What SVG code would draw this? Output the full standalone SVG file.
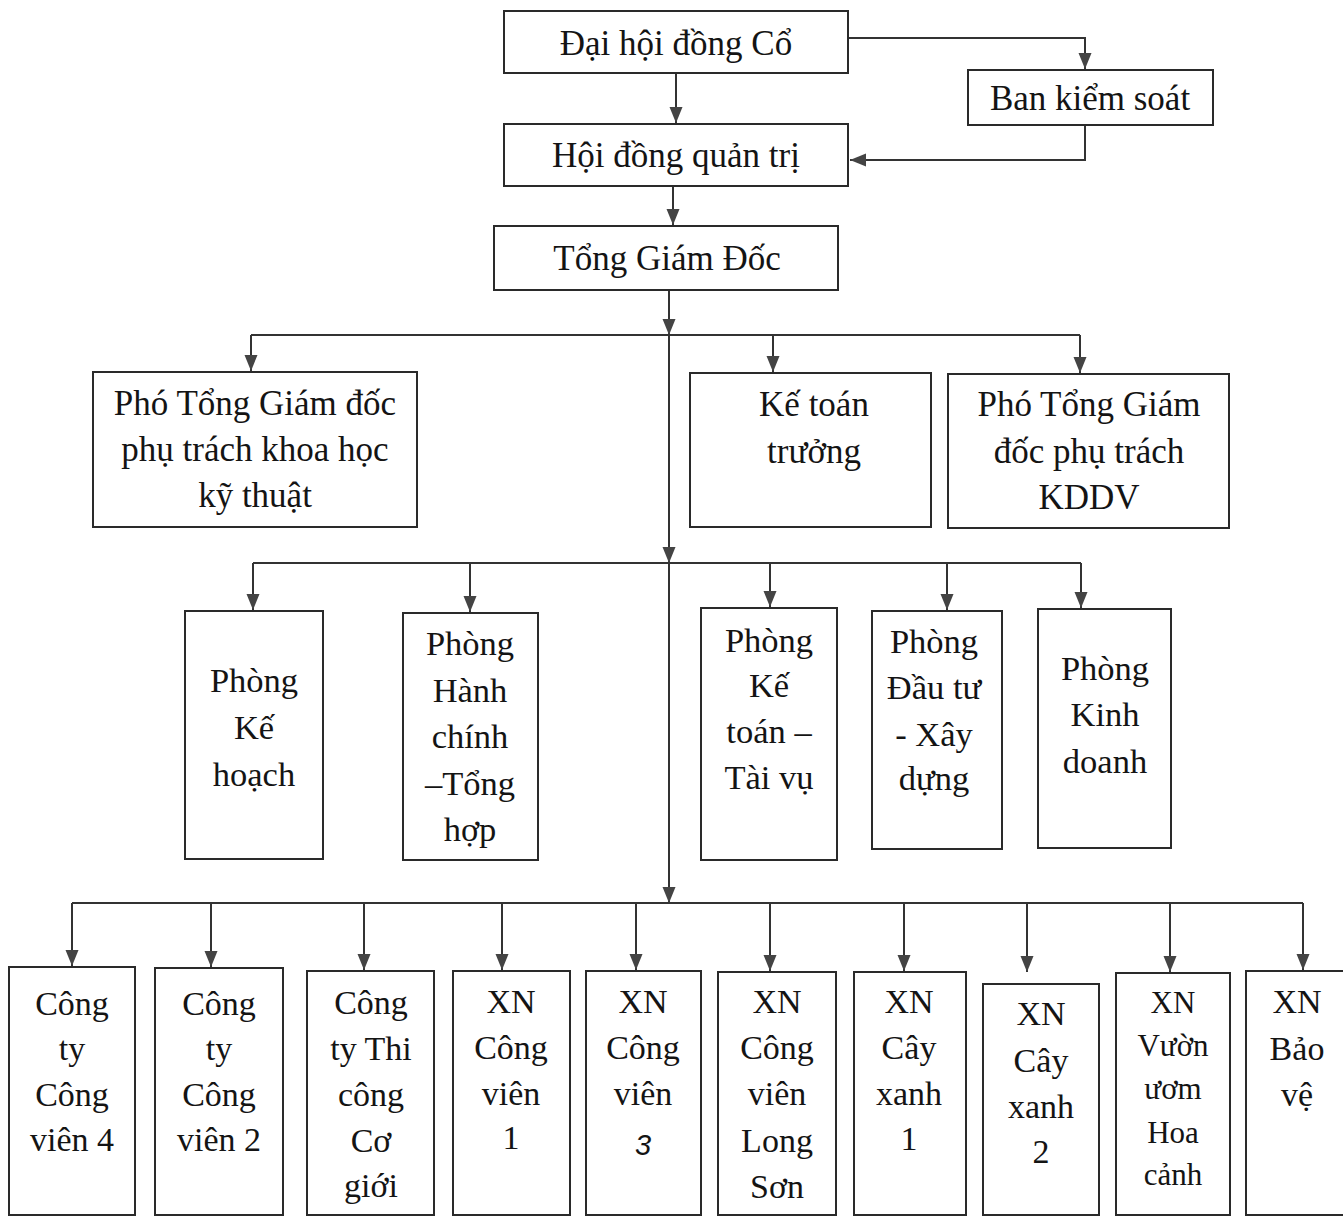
<svg xmlns="http://www.w3.org/2000/svg" width="1343" height="1217" viewBox="0 0 1343 1217">
<style>
.box{fill:#fff;stroke:#2a2a2a;stroke-width:2}
.t{font-family:"Liberation Serif","Times New Roman",serif;font-size:35px;fill:#141414;text-anchor:middle}
.m{font-size:34.5px}
.b{font-size:34px}
.s{font-size:31px}
.c{fill:none;stroke:#333;stroke-width:2}
</style>
<defs>
<marker id="ah" markerUnits="userSpaceOnUse" markerWidth="17" markerHeight="14" refX="16" refY="7" orient="auto">
<path d="M0,0.5 L16,7 L0,13.5 z" fill="#444"/>
</marker>
</defs>
<rect width="1343" height="1217" fill="#fff"/>
<g id="connectors">
<path class="c" d="M676,73 V123" marker-end="url(#ah)"/>
<path class="c" d="M848,38 H1085 V69" marker-end="url(#ah)"/>
<path class="c" d="M1085,125 V160 H850" marker-end="url(#ah)"/>
<path class="c" d="M673,186 V225" marker-end="url(#ah)"/>
<path class="c" d="M669,290 V335" marker-end="url(#ah)"/>
<path class="c" d="M669,335 V563" marker-end="url(#ah)"/>
<path class="c" d="M669,563 V903" marker-end="url(#ah)"/>
<path class="c" d="M251,335 H1080"/>
<path class="c" d="M251,335 V371" marker-end="url(#ah)"/>
<path class="c" d="M773,335 V372" marker-end="url(#ah)"/>
<path class="c" d="M1080,335 V373" marker-end="url(#ah)"/>
<path class="c" d="M253,563 H1081"/>
<path class="c" d="M253,563 V610" marker-end="url(#ah)"/>
<path class="c" d="M470,563 V612" marker-end="url(#ah)"/>
<path class="c" d="M770,563 V607" marker-end="url(#ah)"/>
<path class="c" d="M947,563 V610" marker-end="url(#ah)"/>
<path class="c" d="M1081,563 V608" marker-end="url(#ah)"/>
<path class="c" d="M72,903 H1303"/>
<path class="c" d="M72,903 V966" marker-end="url(#ah)"/>
<path class="c" d="M211,903 V967" marker-end="url(#ah)"/>
<path class="c" d="M364,903 V970" marker-end="url(#ah)"/>
<path class="c" d="M502,903 V970" marker-end="url(#ah)"/>
<path class="c" d="M636,903 V970" marker-end="url(#ah)"/>
<path class="c" d="M770,903 V971" marker-end="url(#ah)"/>
<path class="c" d="M904,903 V971" marker-end="url(#ah)"/>
<path class="c" d="M1027,903 V972" marker-end="url(#ah)"/>
<path class="c" d="M1170,903 V972" marker-end="url(#ah)"/>
<path class="c" d="M1303,903 V970" marker-end="url(#ah)"/>
</g>
<g id="dai-hoi"><rect class="box" x="504" y="11" width="344" height="62"/><text class="t" x="676" y="55">Đại hội đồng Cổ</text></g>
<g id="ban-kiem-soat"><rect class="box" x="968" y="70" width="245" height="55"/><text class="t" x="1090" y="110">Ban kiểm soát</text></g>
<g id="hoi-dong"><rect class="box" x="504" y="124" width="344" height="62"/><text class="t" x="676" y="167">Hội đồng quản trị</text></g>
<g id="tong-giam-doc"><rect class="box" x="494" y="226" width="344" height="64"/><text class="t" x="667" y="270">Tổng Giám Đốc</text></g>
<g id="pho-khkt"><rect class="box" x="93" y="372" width="324" height="155"/><text class="t" x="255" y="415">Phó Tổng Giám đốc</text><text class="t" x="255" y="461">phụ trách  khoa học</text><text class="t" x="255" y="507">kỹ thuật</text></g>
<g id="ke-toan-truong"><rect class="box" x="690" y="373" width="241" height="154"/><text class="t" x="814" y="416">Kế toán</text><text class="t" x="814" y="463">trưởng</text></g>
<g id="pho-kddv"><rect class="box" x="948" y="374" width="281" height="154"/><text class="t" x="1089" y="416">Phó Tổng Giám</text><text class="t" x="1089" y="463">đốc phụ trách</text><text class="t" x="1089" y="509">KDDV</text></g>
<g id="p-ke-hoach"><rect class="box" x="185" y="611" width="138" height="248"/><text class="t m" x="254" y="692">Phòng</text><text class="t m" x="254" y="739">Kế</text><text class="t m" x="254" y="786">hoạch</text></g>
<g id="p-hanh-chinh"><rect class="box" x="403" y="613" width="135" height="247"/><text class="t m" x="470" y="655">Phòng</text><text class="t m" x="470" y="702">Hành</text><text class="t m" x="470" y="748">chính</text><text class="t m" x="470" y="795">–Tổng</text><text class="t m" x="470" y="841">hợp</text></g>
<g id="p-ke-toan"><rect class="box" x="701" y="608" width="136" height="252"/><text class="t m" x="769" y="652">Phòng</text><text class="t m" x="769" y="697">Kế</text><text class="t m" x="769" y="743">toán –</text><text class="t m" x="769" y="789">Tài  vụ</text></g>
<g id="p-dau-tu"><rect class="box" x="872" y="611" width="130" height="238"/><text class="t m" x="934" y="653">Phòng</text><text class="t m" x="934" y="699">Đầu tư</text><text class="t m" x="934" y="746">- Xây</text><text class="t m" x="934" y="790">dựng</text></g>
<g id="p-kinh-doanh"><rect class="box" x="1038" y="609" width="133" height="239"/><text class="t m" x="1105" y="680">Phòng</text><text class="t m" x="1105" y="726">Kinh</text><text class="t m" x="1105" y="773">doanh</text></g>
<g id="cty-cv4"><rect class="box" x="9" y="967" width="126" height="248"/><text class="t b" x="72" y="1015">Công</text><text class="t b" x="72" y="1060">ty</text><text class="t b" x="72" y="1106">Công</text><text class="t b" x="72" y="1151">viên 4</text></g>
<g id="cty-cv2"><rect class="box" x="155" y="968" width="128" height="247"/><text class="t b" x="219" y="1015">Công</text><text class="t b" x="219" y="1060">ty</text><text class="t b" x="219" y="1106">Công</text><text class="t b" x="219" y="1151">viên 2</text></g>
<g id="cty-thi-cong"><rect class="box" x="307" y="971" width="127" height="244"/><text class="t b" x="371" y="1014">Công</text><text class="t b" x="371" y="1060">ty Thi</text><text class="t b" x="371" y="1106">công</text><text class="t b" x="371" y="1152">Cơ</text><text class="t b" x="371" y="1197">giới</text></g>
<g id="xn-cv1"><rect class="box" x="453" y="971" width="117" height="244"/><text class="t b" x="511" y="1013">XN</text><text class="t b" x="511" y="1059">Công</text><text class="t b" x="511" y="1105">viên</text><text class="t b" x="511" y="1149">1</text></g>
<g id="xn-cv3"><rect class="box" x="586" y="971" width="115" height="244"/><text class="t b" x="643" y="1013">XN</text><text class="t b" x="643" y="1059">Công</text><text class="t b" x="643" y="1105">viên</text><text class="t" x="643" y="1155" style="font-family:'Liberation Sans',Arial,sans-serif;font-style:italic;font-size:29px">3</text></g>
<g id="xn-long-son"><rect class="box" x="718" y="972" width="118" height="243"/><text class="t b" x="777" y="1013">XN</text><text class="t b" x="777" y="1059">Công</text><text class="t b" x="777" y="1105">viên</text><text class="t b" x="777" y="1152">Long</text><text class="t b" x="777" y="1198">Sơn</text></g>
<g id="xn-cx1"><rect class="box" x="854" y="972" width="112" height="243"/><text class="t b" x="909" y="1013">XN</text><text class="t b" x="909" y="1059">Cây</text><text class="t b" x="909" y="1105">xanh</text><text class="t b" x="909" y="1150">1</text></g>
<g id="xn-cx2"><rect class="box" x="983" y="984" width="116" height="231"/><text class="t b" x="1041" y="1025">XN</text><text class="t b" x="1041" y="1072">Cây</text><text class="t b" x="1041" y="1118">xanh</text><text class="t b" x="1041" y="1163">2</text></g>
<g id="xn-vuon-uom"><rect class="box" x="1116" y="973" width="114" height="242"/><text class="t s" x="1173" y="1013">XN</text><text class="t s" x="1173" y="1056">Vườn</text><text class="t s" x="1173" y="1099">ươm</text><text class="t s" x="1173" y="1143">Hoa</text><text class="t s" x="1173" y="1185">cảnh</text></g>
<g id="xn-bao-ve"><rect class="box" x="1246" y="971" width="100" height="244"/><text class="t b" x="1297" y="1013">XN</text><text class="t b" x="1297" y="1060">Bảo</text><text class="t b" x="1297" y="1106">vệ</text></g>
</svg>
